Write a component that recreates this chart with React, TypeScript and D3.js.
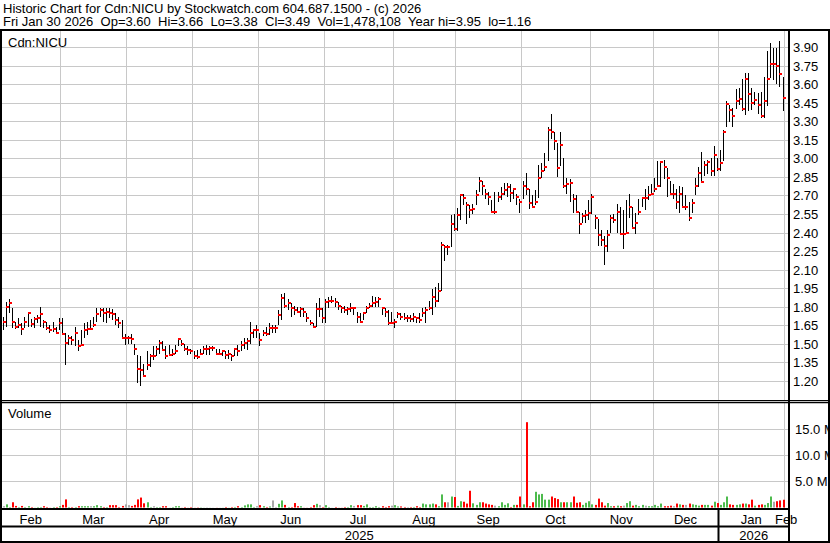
import React from 'react';
import * as d3 from 'd3';

// month labels along the bottom, trading days in each month of data
const monthNames = ['Feb', 'Mar', 'Apr', 'May', 'Jun', 'Jul', 'Aug', 'Sep', 'Oct', 'Nov', 'Dec', 'Jan', 'Feb'];
const monthDays = [19, 21, 21, 21, 21, 22, 20, 21, 22, 20, 21, 21, 0];
const yearNames = ['2025', '2026'];
const yearFirstMonth = [0, 11];

const priceTicks = [3.9, 3.75, 3.6, 3.45, 3.3, 3.15, 3.0, 2.85, 2.7, 2.55, 2.4, 2.25, 2.1, 1.95, 1.8, 1.65, 1.5, 1.35, 1.2];
const volumeTicks = [5, 10, 15]; // millions

// daily high / low / close, one line per month
const high = [
  1.72, 1.84, 1.86, 1.79, 1.68, 1.71, 1.67, 1.72, 1.76, 1.70, 1.72, 1.73, 1.80, 1.69, 1.68, 1.65, 1.68, 1.64, 1.71,
  1.71, 1.59, 1.57, 1.56, 1.64, 1.53, 1.61, 1.67, 1.68, 1.69, 1.72, 1.79, 1.79, 1.79, 1.79, 1.79, 1.78, 1.75, 1.72, 1.69, 1.58,
  1.56, 1.58, 1.50, 1.41, 1.40, 1.34, 1.44, 1.42, 1.48, 1.48, 1.53, 1.52, 1.48, 1.49, 1.46, 1.49, 1.55, 1.53, 1.50, 1.48, 1.46,
  1.44, 1.45, 1.46, 1.48, 1.49, 1.48, 1.48, 1.46, 1.46, 1.45, 1.44, 1.45, 1.42, 1.46, 1.49, 1.52, 1.55, 1.55, 1.68, 1.61, 1.65,
  1.59, 1.61, 1.64, 1.67, 1.65, 1.65, 1.77, 1.90, 1.91, 1.86, 1.83, 1.81, 1.80, 1.80, 1.79, 1.75, 1.69, 1.67, 1.83, 1.87, 1.79,
  1.86, 1.88, 1.89, 1.87, 1.84, 1.81, 1.81, 1.80, 1.83, 1.80, 1.76, 1.75, 1.76, 1.81, 1.83, 1.89, 1.88, 1.88, 1.80, 1.79, 1.77, 1.76,
  1.70, 1.76, 1.75, 1.75, 1.73, 1.73, 1.75, 1.72, 1.75, 1.79, 1.80, 1.85, 1.94, 1.96, 1.99, 2.32, 2.30, 2.30, 2.54, 2.55,
  2.60, 2.71, 2.71, 2.65, 2.62, 2.63, 2.74, 2.85, 2.82, 2.75, 2.73, 2.66, 2.73, 2.73, 2.77, 2.80, 2.80, 2.79, 2.75, 2.71, 2.67,
  2.82, 2.88, 2.75, 2.70, 2.74, 2.95, 2.96, 3.04, 3.25, 3.36, 3.21, 3.12, 3.21, 3.00, 2.84, 2.83, 2.71, 2.70, 2.57, 2.56, 2.58, 2.66,
  2.71, 2.54, 2.51, 2.42, 2.37, 2.42, 2.54, 2.55, 2.63, 2.61, 2.58, 2.66, 2.71, 2.61, 2.56, 2.67, 2.69, 2.75, 2.78, 2.79,
  2.84, 2.98, 2.98, 2.99, 2.92, 2.82, 2.79, 2.75, 2.78, 2.77, 2.70, 2.65, 2.67, 2.84, 2.93, 3.05, 2.98, 2.99, 3.00, 3.10, 3.00,
  3.07, 3.23, 3.46, 3.43, 3.41, 3.56, 3.57, 3.64, 3.69, 3.69, 3.57, 3.54, 3.53, 3.54, 3.66, 3.87, 3.93, 3.89, 3.89, 3.95, 3.66,
];

const low = [
  1.61, 1.64, 1.75, 1.63, 1.62, 1.63, 1.57, 1.63, 1.64, 1.64, 1.63, 1.67, 1.64, 1.63, 1.61, 1.59, 1.60, 1.59, 1.61,
  1.57, 1.33, 1.49, 1.49, 1.48, 1.44, 1.48, 1.55, 1.57, 1.61, 1.64, 1.68, 1.72, 1.68, 1.67, 1.71, 1.69, 1.65, 1.63, 1.55, 1.49,
  1.50, 1.50, 1.41, 1.18, 1.16, 1.24, 1.29, 1.31, 1.37, 1.40, 1.42, 1.44, 1.38, 1.40, 1.40, 1.42, 1.48, 1.48, 1.44, 1.41, 1.42,
  1.38, 1.38, 1.41, 1.42, 1.41, 1.41, 1.44, 1.41, 1.41, 1.40, 1.38, 1.38, 1.36, 1.40, 1.40, 1.44, 1.46, 1.45, 1.50, 1.55, 1.55,
  1.48, 1.56, 1.56, 1.57, 1.59, 1.59, 1.65, 1.69, 1.79, 1.77, 1.72, 1.73, 1.75, 1.72, 1.72, 1.68, 1.65, 1.63, 1.64, 1.72, 1.67,
  1.67, 1.79, 1.83, 1.80, 1.77, 1.75, 1.75, 1.73, 1.76, 1.73, 1.67, 1.67, 1.69, 1.75, 1.79, 1.80, 1.80, 1.80, 1.73, 1.72, 1.65, 1.67,
  1.63, 1.71, 1.69, 1.69, 1.68, 1.68, 1.68, 1.67, 1.67, 1.72, 1.67, 1.77, 1.73, 1.80, 1.84, 1.93, 2.17, 2.22, 2.28, 2.41,
  2.41, 2.50, 2.62, 2.47, 2.52, 2.55, 2.62, 2.73, 2.70, 2.67, 2.62, 2.56, 2.55, 2.65, 2.66, 2.70, 2.69, 2.65, 2.67, 2.62, 2.56,
  2.67, 2.70, 2.59, 2.61, 2.62, 2.68, 2.84, 2.90, 2.98, 3.16, 3.07, 2.85, 2.94, 2.76, 2.71, 2.65, 2.56, 2.56, 2.39, 2.48, 2.48, 2.50,
  2.55, 2.43, 2.29, 2.29, 2.14, 2.24, 2.40, 2.48, 2.40, 2.39, 2.27, 2.39, 2.52, 2.43, 2.39, 2.54, 2.61, 2.58, 2.66, 2.70,
  2.73, 2.77, 2.77, 2.83, 2.69, 2.70, 2.67, 2.59, 2.56, 2.61, 2.58, 2.49, 2.56, 2.70, 2.77, 2.81, 2.86, 2.87, 2.86, 2.86, 2.90,
  2.90, 2.98, 3.25, 3.29, 3.25, 3.40, 3.43, 3.38, 3.35, 3.38, 3.39, 3.43, 3.36, 3.33, 3.33, 3.42, 3.65, 3.63, 3.60, 3.58, 3.38,
];

const close = [
  1.68, 1.80, 1.83, 1.68, 1.64, 1.65, 1.62, 1.68, 1.75, 1.66, 1.70, 1.71, 1.74, 1.68, 1.63, 1.61, 1.62, 1.59, 1.67,
  1.58, 1.51, 1.55, 1.53, 1.59, 1.48, 1.49, 1.61, 1.62, 1.62, 1.65, 1.74, 1.77, 1.75, 1.76, 1.75, 1.74, 1.69, 1.67, 1.55, 1.55,
  1.55, 1.54, 1.46, 1.30, 1.29, 1.24, 1.33, 1.40, 1.40, 1.46, 1.51, 1.45, 1.40, 1.41, 1.42, 1.44, 1.54, 1.50, 1.46, 1.45, 1.44,
  1.40, 1.39, 1.42, 1.46, 1.46, 1.47, 1.47, 1.42, 1.42, 1.44, 1.41, 1.42, 1.40, 1.46, 1.44, 1.49, 1.51, 1.52, 1.59, 1.61, 1.61,
  1.53, 1.59, 1.58, 1.63, 1.63, 1.63, 1.73, 1.87, 1.81, 1.83, 1.79, 1.77, 1.76, 1.78, 1.76, 1.71, 1.67, 1.64, 1.78, 1.78, 1.71,
  1.84, 1.85, 1.85, 1.84, 1.81, 1.79, 1.77, 1.78, 1.79, 1.79, 1.72, 1.68, 1.75, 1.79, 1.81, 1.83, 1.84, 1.86, 1.79, 1.76, 1.67, 1.67,
  1.68, 1.74, 1.72, 1.71, 1.71, 1.70, 1.72, 1.71, 1.69, 1.75, 1.77, 1.79, 1.88, 1.85, 1.93, 2.30, 2.28, 2.28, 2.47, 2.43,
  2.54, 2.70, 2.68, 2.62, 2.58, 2.59, 2.70, 2.82, 2.78, 2.71, 2.69, 2.57, 2.57, 2.69, 2.71, 2.74, 2.77, 2.72, 2.75, 2.69, 2.65,
  2.78, 2.75, 2.64, 2.61, 2.65, 2.84, 2.90, 2.93, 3.23, 3.21, 3.14, 2.92, 3.11, 2.78, 2.79, 2.80, 2.67, 2.57, 2.47, 2.53, 2.54, 2.56,
  2.69, 2.52, 2.38, 2.34, 2.29, 2.38, 2.52, 2.50, 2.57, 2.39, 2.39, 2.40, 2.61, 2.44, 2.48, 2.57, 2.68, 2.68, 2.70, 2.71,
  2.75, 2.78, 2.97, 2.93, 2.84, 2.71, 2.71, 2.65, 2.71, 2.61, 2.61, 2.52, 2.64, 2.78, 2.88, 2.81, 2.95, 2.97, 2.90, 3.03, 2.91,
  2.96, 3.21, 3.44, 3.39, 3.34, 3.46, 3.48, 3.40, 3.64, 3.52, 3.45, 3.47, 3.43, 3.34, 3.46, 3.64, 3.76, 3.76, 3.75, 3.68, 3.49,
];

// daily volume, millions of shares
const volume = [
  0.25, 0.6, 0.1, 1.0, 0.3, 0.1, 0.3, 0.1, 0.25, 0.1, 0.02, 0.1, 0.1, 0.25, 0.1, 0.02, 0.1, 0.1, 0.25,
  0.5, 1.55, 0.1, 0.1, 0.1, 0.25, 0.25, 0.25, 0.25, 0.25, 0.25, 0.45, 0.25, 0.1, 0.1, 0.45, 0.45, 0.45, 0.1, 0.3, 0.6,
  0.45, 0.3, 0.5, 1.55, 1.9, 0.8, 1.0, 0.1, 0.25, 0.1, 0.1, 0.25, 0.25, 0.02, 0.1, 0.25, 0.25, 0.02, 0.1, 0.02, 0.1,
  0.02, 0.05, 0.05, 0.02, 0.05, 0.02, 0.02, 0.02, 0.02, 0.02, 0.1, 0.02, 0.1, 0.1, 0.25, 0.1, 0.4, 0.6, 0.6, 0.1, 0.25,
  0.45, 0.25, 0.1, 0.2, 1.35, 0.1, 0.7, 1.35, 0.5, 0.1, 0.1, 0.85, 0.25, 0.25, 0.02, 0.02, 0.1, 0.45, 0.7, 0.45, 0.1,
  0.45, 0.1, 0.02, 0.1, 0.02, 0.02, 0.1, 0.1, 0.45, 0.3, 0.45, 0.45, 0.3, 0.6, 0.1, 0.1, 0.25, 0.1, 0.25, 0.1, 0.25, 0.35,
  0.45, 0.2, 0.2, 0.1, 0.1, 0.1, 0.1, 0.25, 0.1, 0.75, 0.6, 0.6, 0.75, 0.6, 0.25, 2.5, 1.0, 1.0, 2.1, 2.0,
  0.3, 1.2, 1.1, 0.75, 3.2, 0.8, 0.5, 1.0, 1.0, 0.75, 0.6, 0.5, 0.35, 0.25, 1.0, 0.5, 0.8, 0.1, 0.5, 0.5, 2.1,
  0.6, 16.3, 0.25, 1.0, 3.0, 2.5, 2.6, 1.5, 1.5, 2.1, 1.8, 1.6, 1.0, 1.0, 1.0, 1.0, 2.1, 0.9, 1.0, 0.5, 0.9, 1.2,
  0.6, 0.5, 1.7, 1.0, 0.35, 0.85, 0.25, 0.25, 0.35, 0.25, 0.35, 0.85, 1.2, 0.35, 0.5, 0.25, 0.5, 0.35, 0.25, 0.25,
  0.5, 0.25, 0.75, 0.25, 0.25, 0.35, 0.25, 0.75, 0.6, 0.5, 0.5, 0.75, 0.6, 0.5, 0.35, 0.5, 0.5, 0.5, 0.35, 1.1, 0.85,
  0.5, 1.0, 2.1, 0.6, 0.5, 0.5, 0.6, 0.75, 0.75, 0.6, 1.5, 0.35, 0.5, 0.6, 0.5, 0.85, 2.1, 1.1, 1.2, 1.35, 1.48,
];

const headerLine1 = 'Historic Chart for Cdn:NICU by Stockwatch.com 604.687.1500 - (c) 2026';
const headerFields = ['Fri Jan 30 2026', 'Op=3.60', 'Hi=3.66', 'Lo=3.38', 'Cl=3.49', 'Vol=1,478,108', 'Year hi=3.95', 'lo=1.16'];

const W = 830;
const H = 543;
const FONT = '"Liberation Sans", Arial, sans-serif';
const GRID = '#c8c8c8';
const UP = '#4dbb4d';
const DOWN = '#ff0000';
const FLAT = '#a8a8a8';

export default function App() {
  const n = close.length;
  const axisX = 789;

  const x = d3.scaleLinear().domain([0, n - 1]).range([2.5, 782.6]);
  const y = d3.scaleLinear().domain([1.2, 3.9]).range([381, 47]);
  const yv = d3.scaleLinear().domain([0, 15]).range([507.5, 429]);

  const px = (i: number) => Math.round(x(i));

  // first bar index of every month
  const starts = [0, ...Array.from(d3.cumsum(monthDays))];
  const boundary = (k: number) => Math.round(x(starts[k] - 0.5)) + 0.5;

  const monthCenter = (k: number) =>
    monthDays[k] > 0 ? (Math.max(0, x(starts[k] - 0.5)) + x(starts[k + 1] - 0.5)) / 2 : x(starts[k] - 0.5) + 2;

  const yearEdges = yearFirstMonth.map((m) => (m === 0 ? 0 : boundary(m)));

  // fields are separated by two spaces; keep them with no-break spaces
  const headerLine2 = headerFields.join('\u00a0\u00a0');

  return (
    <svg
      width={W}
      height={H}
      style={{ position: 'absolute', left: 0, top: 0, background: '#fff' }}
      fontFamily={FONT}
      fontSize={13}
    >
      <defs>
        <clipPath id="rightCol">
          <rect x={axisX} y={0} width={828 - axisX} height={H} />
        </clipPath>
      </defs>
      <rect x={0} y={0} width={W} height={H} fill="#fff" />

      {/* header */}
      <text x={3} y={13}>{headerLine1}</text>
      <text x={3} y={26}>{headerLine2}</text>

      {/* vertical month grid, price and volume panels */}
      {monthNames.slice(1).map((_, j) => {
        const bx = boundary(j + 1);
        return (
          <g key={'vg' + j}>
            <line x1={bx} x2={bx} y1={31} y2={400} stroke={GRID} />
            <line x1={bx} x2={bx} y1={403} y2={508} stroke={GRID} />
          </g>
        );
      })}

      {/* horizontal price grid + labels */}
      {priceTicks.map((p) => {
        const yy = Math.round(y(p)) + 0.5;
        return (
          <g key={'pt' + p}>
            <line x1={2} x2={axisX} y1={yy} y2={yy} stroke={GRID} />
            <text x={793} y={yy} dy="0.36em">{p.toFixed(2)}</text>
          </g>
        );
      })}

      {/* volume grid + labels */}
      {volumeTicks.map((v) => {
        const yy = Math.round(yv(v)) + 0.5;
        return (
          <g key={'vt' + v}>
            <line x1={2} x2={axisX} y1={yy} y2={yy} stroke={GRID} />
            <text x={795} y={yy} dy="0.36em" clipPath="url(#rightCol)">{v.toFixed(1) + ' M'}</text>
          </g>
        );
      })}

      <text x={8} y={47}>Cdn:NICU</text>
      <text x={8} y={418}>Volume</text>

      {/* price bars: high-low stroke with red close tick */}
      {close.map((c, i) => {
        const bx = px(i);
        const yh = Math.round(y(high[i]));
        const yl = Math.round(y(low[i]));
        return (
          <g key={'b' + i}>
            <rect x={bx} y={yh} width={1} height={Math.max(1, yl - yh)} fill="#000" />
            <rect x={bx} y={Math.round(y(c)) - 1} width={3} height={2} fill={DOWN} />
          </g>
        );
      })}

      {/* volume bars coloured by close change */}
      {volume.map((v, i) => {
        const prev = i > 0 ? close[i - 1] : close[i];
        const color = close[i] > prev ? UP : close[i] < prev ? DOWN : FLAT;
        const top = yv(v);
        return (
          <rect key={'v' + i} x={px(i)} y={top} width={2} height={yv(0) - top} fill={color} />
        );
      })}

      {/* month and year labels */}
      {monthNames.map((m, k) => (
        <text key={'m' + k} x={monthCenter(k)} y={524} textAnchor="middle">{m}</text>
      ))}
      {yearNames.map((yr, k) => {
        const a = yearEdges[k];
        const b = k + 1 < yearEdges.length ? yearEdges[k + 1] : axisX;
        return (
          <text key={'y' + k} x={(a + b) / 2} y={540} textAnchor="middle">{yr}</text>
        );
      })}
      {yearEdges.slice(1).map((e, k) => (
        <line key={'ys' + k} x1={e} x2={e} y1={509} y2={541} stroke="#000" strokeWidth={2} />
      ))}

      {/* frame lines */}
      <line x1={0} x2={W} y1={30} y2={30} stroke="#000" strokeWidth={2} />
      <line x1={0} x2={W} y1={400.5} y2={400.5} stroke="#000" strokeWidth={1} />
      <line x1={0} x2={W} y1={402.5} y2={402.5} stroke="#000" strokeWidth={1.5} />
      <line x1={0} x2={axisX} y1={509} y2={509} stroke="#000" strokeWidth={2} />
      <line x1={0} x2={axisX} y1={526.5} y2={526.5} stroke="#000" strokeWidth={2} />
      <line x1={0} x2={W} y1={542} y2={542} stroke="#000" strokeWidth={2} />
      <line x1={1} x2={1} y1={30} y2={H} stroke="#000" strokeWidth={2} />
      <line x1={axisX} x2={axisX} y1={30} y2={H} stroke="#000" strokeWidth={2} />
      <line x1={829} x2={829} y1={30} y2={H} stroke="#000" strokeWidth={2} />
    </svg>
  );
}
